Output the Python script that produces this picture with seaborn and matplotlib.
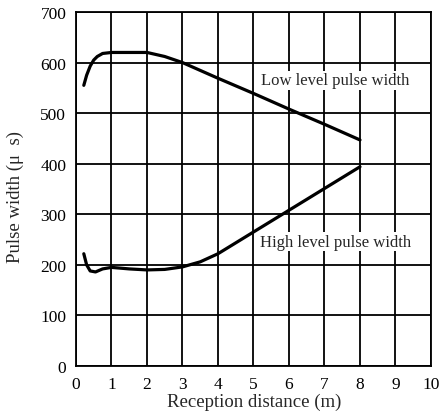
import matplotlib
matplotlib.use("Agg")
import matplotlib.pyplot as plt
import seaborn as sns
import pandas as pd

# reception distance (m) vs pulse width (us)
dist_low = [0.22, 0.3, 0.4, 0.5, 0.6, 0.75, 1.0, 1.5, 2.0, 2.5, 3.0, 4.0, 5.0, 6.0, 7.0, 8.0]
low_width = [555, 575, 593, 605, 612, 618, 620, 620, 620, 612, 600, 569, 539, 508, 478, 447]

dist_high = [0.22, 0.3, 0.4, 0.55, 0.75, 1.0, 1.5, 2.0, 2.5, 3.0, 3.5, 4.0, 5.0, 6.0, 7.0, 8.0]
high_width = [222, 200, 188, 186, 192, 195, 192, 190, 191, 196, 206, 222, 265, 308, 351, 394]

x_ticks = list(range(0, 11))
y_ticks = list(range(0, 701, 100))

sns.set_style("white")
plt.rcParams['font.family'] = ['Liberation Serif', 'DejaVu Serif']

df_low = pd.DataFrame({"dist": dist_low, "width": low_width})
df_high = pd.DataFrame({"dist": dist_high, "width": high_width})

fig = plt.figure(figsize=(4.4, 4.14), dpi=100)
ax = fig.add_axes([0.1727, 0.1135, 0.8068, 0.8551])

sns.lineplot(data=df_low, x="dist", y="width", ax=ax, color="black", linewidth=2.3, zorder=3)
sns.lineplot(data=df_high, x="dist", y="width", ax=ax, color="black", linewidth=2.3, zorder=3)

ax.set_xlim(0, 10)
ax.set_ylim(0, 700)
ax.set_xticks(x_ticks)
ax.set_yticks(y_ticks)
ax.grid(True, color="black", linewidth=1.3)
ax.set_axisbelow(True)
for s in ax.spines.values():
    s.set_color("black")
    s.set_linewidth(1.3)
ax.tick_params(length=0, labelsize=12.5, colors="black", pad=7)

ax.set_xlabel("Reception distance (m)", fontsize=13.5)
ax.set_ylabel("Pulse width (μ  s)", fontsize=13.5)
ax.xaxis.label.set_va("center")
ax.xaxis.set_label_coords(0.501, -0.1)
ax.yaxis.label.set_va("center")
ax.yaxis.label.set_rotation_mode("default")
ax.yaxis.set_label_coords(-0.172, 0.48)

box = dict(facecolor="white", edgecolor="none", pad=1)
ax.text(5.22, 565, "Low level pulse width", fontsize=12, va="center", bbox=box, zorder=4)
ax.text(5.18, 246, "High level pulse width", fontsize=12, va="center", bbox=box, zorder=4)

fig.savefig("out.png", dpi=100)
